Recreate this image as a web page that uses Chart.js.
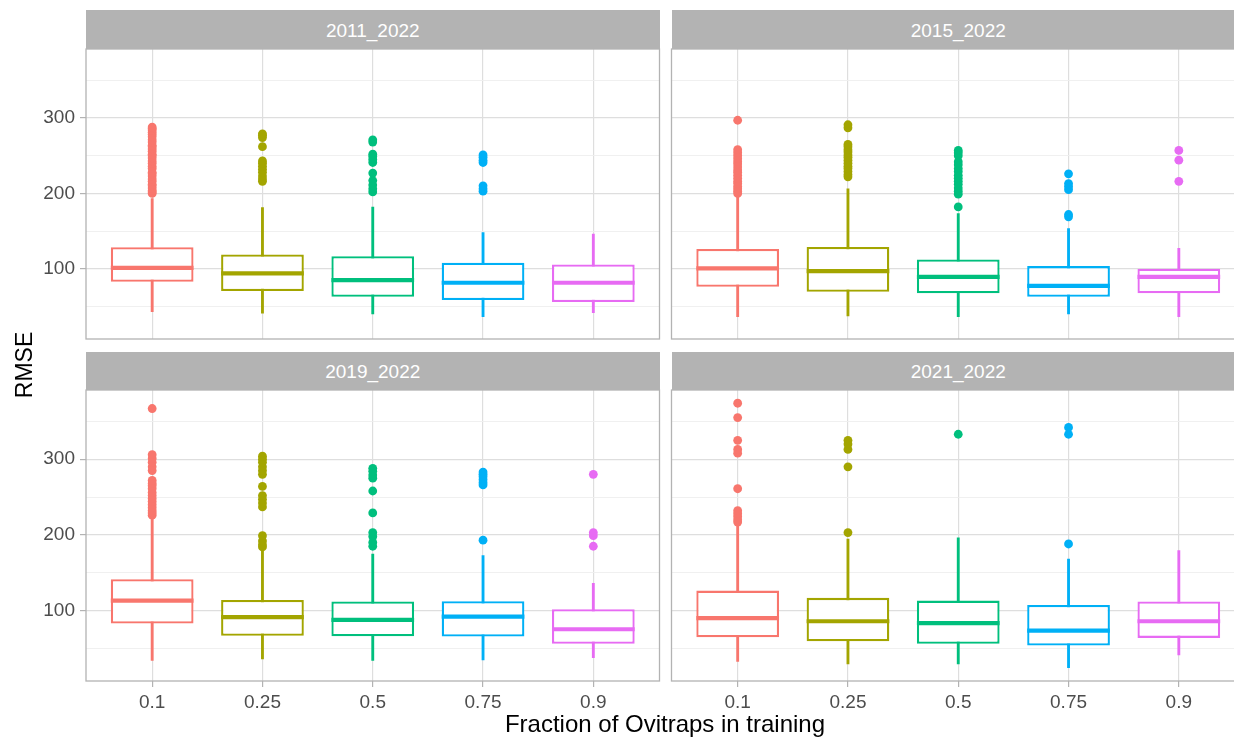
<!DOCTYPE html>
<html>
<head>
<meta charset="utf-8">
<title>RMSE by fraction of ovitraps in training</title>
<script src="https://cdn.jsdelivr.net/npm/chart.js@4/dist/chart.umd.min.js"></script>
<style>
  html, body { margin: 0; padding: 0; background: #ffffff; }
  body {
    width: 1234px; height: 738px; overflow: hidden; position: relative;
    font-family: "Liberation Sans", Arial, sans-serif;
  }
  canvas { position: absolute; }
  .strip {
    position: absolute; background: #b3b3b3; color: #ffffff;
    font-size: 19px; text-align: center; white-space: nowrap;
  }
  .axis-title { position: absolute; color: #000000; text-align: center; white-space: nowrap; }
</style>
</head>
<body>
<script>
// Categories on the x axis and the facet names
const FRACTIONS = ['0.1', '0.25', '0.5', '0.75', '0.9'];
const PERIODS = ['2011_2022', '2015_2022', '2019_2022', '2021_2022'];
const HUES = ['#F8766D', '#A3A500', '#00BF7D', '#00B0F6', '#E76BF3'];

// y axis breaks
const Y_MAJOR = [100, 200, 300];
const Y_MINOR = [50, 150, 250, 350];

// Box statistics per period: whisker ends, quartiles, median, outliers
const LOW_2011  = [43.2, 41.1, 40.1, 36.6, 41.9];
const Q1_2011   = [82.8, 70.5, 63.0, 58.6, 56.0];
const MED_2011  = [101.3, 93.9, 85.1, 81.5, 81.5];
const Q3_2011   = [128.7, 119.0, 116.8, 108.0, 105.8];
const HIGH_2011 = [193.0, 181.1, 182.0, 148.1, 145.9];
const OUT_2011  = [
  [200, 202, 204, 207, 210, 212, 216, 219, 223, 226, 228, 233, 236, 240, 243, 247, 250, 252, 256, 259, 262, 264, 268, 271, 275, 278, 281, 284, 286, 288],
  [216, 219, 223, 228, 232, 236, 240, 243, 262, 274, 277, 279],
  [202, 206, 211, 217, 227, 241, 245, 249, 252, 268, 271],
  [203, 206, 210, 241, 244, 248, 251],
  []
];

const LOW_2015  = [36.6, 37.5, 36.6, 40.1, 36.6];
const Q1_2015   = [76.2, 69.6, 67.5, 63.0, 67.5];
const MED_2015  = [100.5, 97.0, 89.4, 77.5, 89.4];
const Q3_2015   = [126.4, 129.0, 112.4, 103.6, 100.0];
const HIGH_2015 = [195.1, 206.2, 173.2, 153.4, 127.0];
const OUT_2015  = [
  [200, 203, 206, 209, 213, 216, 220, 224, 228, 231, 235, 239, 242, 246, 250, 254, 258, 297],
  [222, 225, 229, 233, 236, 240, 244, 248, 251, 255, 258, 262, 265, 287, 291],
  [182, 199, 203, 207, 212, 216, 220, 224, 229, 233, 238, 242, 250, 254, 257],
  [169, 172, 205, 209, 213, 226],
  [216, 244, 257]
];

const LOW_2019  = [34.0, 36.2, 34.0, 34.9, 37.6];
const Q1_2019   = [82.8, 66.6, 66.1, 65.7, 56.0];
const MED_2019  = [113.2, 91.2, 87.7, 92.1, 75.3];
const Q3_2019   = [141.3, 114.1, 111.9, 112.3, 101.7];
const HIGH_2019 = [223.2, 183.6, 174.8, 172.6, 136.0];
const OUT_2019  = [
  [226, 229, 232, 236, 240, 244, 248, 252, 256, 261, 265, 268, 272, 285, 290, 296, 301, 306, 367],
  [184, 187, 192, 199, 237, 242, 247, 252, 264, 280, 285, 290, 296, 300, 304],
  [185, 190, 198, 203, 229, 258, 275, 279, 284, 288],
  [193, 266, 269, 273, 277, 280, 283],
  [185, 199, 203, 280]
];

const LOW_2021  = [32.7, 29.6, 29.6, 24.4, 41.5];
const Q1_2021   = [64.8, 59.5, 56.0, 53.8, 63.9];
const MED_2021  = [89.9, 85.9, 83.3, 73.6, 85.9];
const Q3_2021   = [126.4, 116.8, 113.2, 107.5, 111.9];
const HIGH_2021 = [214.5, 194.6, 196.0, 168.2, 179.2];
const OUT_2021  = [
  [217, 220, 224, 228, 232, 261, 308, 313, 325, 355, 374],
  [203, 290, 313, 320, 325],
  [333],
  [188, 333, 342],
  []
];

const STATS = [
  { low: LOW_2011, q1: Q1_2011, med: MED_2011, q3: Q3_2011, high: HIGH_2011, out: OUT_2011 },
  { low: LOW_2015, q1: Q1_2015, med: MED_2015, q3: Q3_2015, high: HIGH_2015, out: OUT_2015 },
  { low: LOW_2019, q1: Q1_2019, med: MED_2019, q3: Q3_2019, high: HIGH_2019, out: OUT_2019 },
  { low: LOW_2021, q1: Q1_2021, med: MED_2021, q3: Q3_2021, high: HIGH_2021, out: OUT_2021 }
];

// Shared y range: data extent widened by 5% on each side
const allY = STATS.flatMap(s => [...s.low, ...s.high, ...s.out.flat()]);
const dataMin = Math.min(...allY), dataMax = Math.max(...allY);
const Y_MIN = dataMin - 0.05 * (dataMax - dataMin);
const Y_MAX = dataMax + 0.05 * (dataMax - dataMin);

// Layout of the 2x2 facet grid (page pixels)
const BOX_WIDTH = 0.75;
const X_PAD = 0.6;
const FONT = '"Liberation Sans", Arial, sans-serif';
const PANEL_LAYOUT = [
  { plot: { l: 86,    t: 49,  r: 659.5, b: 339 }, strip: { t: 10,    h: 39 },   yLabels: true,  xLabels: false },
  { plot: { l: 671.5, t: 49,  r: 1245,  b: 339 }, strip: { t: 10,    h: 39 },   yLabels: false, xLabels: false },
  { plot: { l: 86,    t: 390, r: 659.5, b: 681 }, strip: { t: 351.5, h: 38.5 }, yLabels: true,  xLabels: true },
  { plot: { l: 671.5, t: 390, r: 1245,  b: 681 }, strip: { t: 351.5, h: 38.5 }, yLabels: false, xLabels: true }
];

// Grey border around each panel, drawn over the data like ggplot's theme_light
const panelFrame = {
  id: 'panelFrame',
  afterDraw(chart) {
    const { ctx, chartArea: a } = chart;
    ctx.save();
    ctx.strokeStyle = '#b3b3b3';
    ctx.lineWidth = 1.3;
    ctx.strokeRect(a.left, a.top, a.right - a.left, a.bottom - a.top);
    ctx.restore();
  }
};

function isMajor(v) { return Y_MAJOR.includes(v); }

function buildPanel(stats, period, layout) {
  const p = layout.plot;
  const left = layout.yLabels ? 0 : Math.floor(p.l - 3);
  const top = p.t - 4;
  const right = Math.ceil(p.r + 4);
  const bottom = layout.xLabels ? p.b + 40 : p.b + 3;

  const canvas = document.createElement('canvas');
  canvas.width = right - left;
  canvas.height = bottom - top;
  canvas.style.left = left + 'px';
  canvas.style.top = top + 'px';
  document.body.appendChild(canvas);

  const strip = document.createElement('div');
  strip.className = 'strip';
  strip.textContent = period;
  strip.style.left = p.l + 'px';
  strip.style.width = (p.r - p.l) + 'px';
  strip.style.top = layout.strip.t + 'px';
  strip.style.height = layout.strip.h + 'px';
  strip.style.lineHeight = (layout.strip.h + 2) + 'px';
  document.body.appendChild(strip);

  const outlierPoints = stats.out.flatMap((vals, i) => vals.map(v => ({ x: i, y: v })));
  const outlierColors = stats.out.flatMap((vals, i) => vals.map(() => HUES[i]));

  const datasets = [
    {
      type: 'bar', label: 'whiskers',
      data: FRACTIONS.map((_, i) => ({ x: i, y: [stats.low[i], stats.high[i]] })),
      backgroundColor: HUES, borderWidth: 0, barThickness: 2.2, grouped: false, order: 3
    },
    {
      type: 'bar', label: 'boxes',
      data: FRACTIONS.map((_, i) => ({ x: i, y: [stats.q1[i], stats.q3[i]] })),
      backgroundColor: '#ffffff', borderColor: HUES, borderWidth: 2.3, borderSkipped: false,
      grouped: false, categoryPercentage: 1, barPercentage: BOX_WIDTH, order: 2
    },
    ...FRACTIONS.map((_, i) => ({
      type: 'line', label: 'median ' + FRACTIONS[i],
      data: [{ x: i - BOX_WIDTH / 2, y: stats.med[i] }, { x: i + BOX_WIDTH / 2, y: stats.med[i] }],
      borderColor: HUES[i], borderWidth: 4.2, borderCapStyle: 'butt',
      pointRadius: 0, fill: false, order: 1
    })),
    {
      type: 'scatter', label: 'outliers',
      data: outlierPoints,
      backgroundColor: outlierColors, pointBackgroundColor: outlierColors,
      pointRadius: 4.4, pointBorderWidth: 0, order: 0
    }
  ];

  const tickFont = { family: FONT, size: 19 };

  new Chart(canvas, {
    type: 'bar',
    data: { datasets },
    plugins: [panelFrame],
    options: {
      responsive: false,
      devicePixelRatio: 1,
      animation: false,
      events: [],
      layout: { autoPadding: false, padding: { top: p.t - top, right: right - p.r, bottom: 0, left: 0 } },
      plugins: { legend: { display: false }, tooltip: { enabled: false }, title: { display: false } },
      scales: {
        x: {
          type: 'linear', position: 'bottom',
          min: -X_PAD, max: FRACTIONS.length - 1 + X_PAD,
          offset: false,
          afterBuildTicks: s => { s.ticks = FRACTIONS.map((_, i) => ({ value: i })); },
          afterFit: s => { s.height = bottom - p.b; s.paddingLeft = 0; s.paddingRight = 0; },
          grid: {
            offset: false, color: '#dedede', lineWidth: 1.2,
            drawTicks: layout.xLabels, tickLength: 6, tickColor: '#b3b3b3', tickWidth: 1.2
          },
          border: { display: false },
          ticks: {
            display: layout.xLabels, autoSkip: false, maxRotation: 0, minRotation: 0,
            padding: 4, color: '#4d4d4d', font: tickFont,
            callback: v => FRACTIONS[v]
          }
        },
        y: {
          type: 'linear', position: 'left',
          min: Y_MIN, max: Y_MAX,
          afterBuildTicks: s => {
            s.ticks = [...Y_MINOR, ...Y_MAJOR].sort((a, b) => a - b).map(v => ({ value: v }));
          },
          afterFit: s => { s.width = p.l - left; s.paddingTop = 0; s.paddingBottom = 0; },
          grid: {
            color: ctx => isMajor(ctx.tick.value) ? '#dedede' : '#eeeeee',
            lineWidth: ctx => isMajor(ctx.tick.value) ? 1.2 : 0.9,
            drawTicks: layout.yLabels, tickLength: 6, tickWidth: 1.2,
            tickColor: ctx => isMajor(ctx.tick.value) ? '#b3b3b3' : 'rgba(0,0,0,0)'
          },
          border: { display: false },
          ticks: {
            display: layout.yLabels, autoSkip: false, padding: 5,
            color: '#4d4d4d', font: tickFont,
            callback: v => isMajor(v) ? String(v) : ''
          }
        }
      }
    }
  });
}

STATS.forEach((s, k) => buildPanel(s, PERIODS[k], PANEL_LAYOUT[k]));

// Shared axis titles
const xTitle = document.createElement('div');
xTitle.className = 'axis-title';
xTitle.textContent = 'Fraction of Ovitraps in training';
Object.assign(xTitle.style, { left: '365px', width: '600px', top: '712px', fontSize: '24px', lineHeight: '24px' });
document.body.appendChild(xTitle);

const yTitle = document.createElement('div');
yTitle.className = 'axis-title';
yTitle.textContent = 'RMSE';
Object.assign(yTitle.style, {
  left: '-76px', width: '200px', top: '350px', height: '30px',
  fontSize: '23px', lineHeight: '30px', transform: 'rotate(-90deg)'
});
document.body.appendChild(yTitle);
</script>
</body>
</html>
